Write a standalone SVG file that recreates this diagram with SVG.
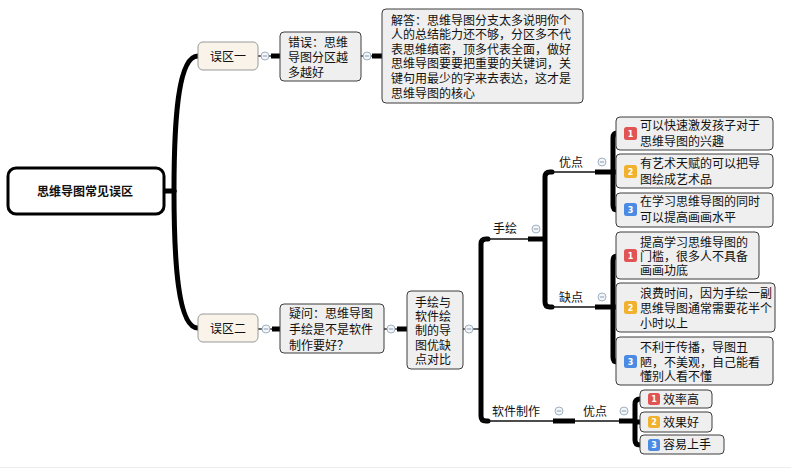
<svg xmlns="http://www.w3.org/2000/svg" width="791" height="472" viewBox="0 0 791 472">
<style>
text{font-family:"Liberation Sans","Noto Sans CJK SC",sans-serif;font-size:12px;fill:#111}
.root{fill:#fff;stroke:#000;stroke-width:3}
.cat{fill:#faf3e9;stroke:#9a9a9a;stroke-width:1}
.box{fill:#efefef;stroke:#3c3c3c;stroke-width:1}
.thin{fill:none;stroke:#111;stroke-width:1.3}
.thick{fill:none;stroke:#000;stroke-width:5;stroke-linecap:round;stroke-linejoin:round}
.bar{fill:none;stroke:#000;stroke-width:5}
.col{fill:#f4f7fa;stroke:#9fb0c0;stroke-width:1}
.colm{stroke:#8a9aab;stroke-width:1}
.b1{fill:#e05454}.b2{fill:#f0b22e}.b3{fill:#4c8be4}
.bn{fill:#fff;font-family:"DejaVu Sans",sans-serif;font-size:8px;font-weight:bold;text-anchor:middle}
</style>
<defs>
<g id="c"><circle r="4" class="col"/><line x1="-2.2" x2="2.2" y1="0" y2="0" class="colm"/></g>
</defs>
<rect width="791" height="472" fill="#fff"/>
<line x1="0" y1="467.5" x2="791" y2="467.5" stroke="#ececec" stroke-width="1"/>

<g id="connectors">
  <path class="thick" d="M164,191 H174"/>
  <path class="thick" d="M174,191 C174,120 178,56 198,56"/>
  <path class="thick" d="M174,191 C174,262 178,328 198,328"/>
  <line class="thin" x1="258" y1="56" x2="280" y2="56"/>
  <line class="bar" x1="271" y1="56" x2="280" y2="56"/>
  <use href="#c" x="265" y="56"/>
  <line class="thin" x1="361" y1="56" x2="382" y2="56"/>
  <line class="bar" x1="372" y1="56" x2="382" y2="56"/>
  <use href="#c" x="367" y="56"/>
  <line class="thin" x1="258" y1="329" x2="280" y2="329"/>
  <line class="bar" x1="272" y1="329" x2="280" y2="329"/>
  <use href="#c" x="266" y="329"/>
  <line class="thin" x1="384" y1="329" x2="407" y2="329"/>
  <line class="bar" x1="397" y1="329" x2="407" y2="329"/>
  <use href="#c" x="391" y="329"/>
  <line class="thin" x1="463" y1="329" x2="481" y2="329"/>
  <use href="#c" x="469" y="329"/>
  <path class="thick" d="M488,239 H486 Q481,239 481,244 V416 Q481,421 486,421 H488"/>
  <line class="thin" x1="481" y1="239" x2="528" y2="239"/>
  <line class="bar" x1="528" y1="239" x2="545" y2="239"/>
  <use href="#c" x="536" y="229"/>
  <path class="thick" d="M552,172 H550 Q545,172 545,177 V302 Q545,307 550,307 H552"/>
  <line class="thin" x1="545" y1="172" x2="595" y2="172"/>
  <line class="bar" x1="595" y1="172" x2="613" y2="172"/>
  <use href="#c" x="602" y="162"/>
  <line class="thin" x1="545" y1="307" x2="595" y2="307"/>
  <line class="bar" x1="595" y1="307" x2="613" y2="307"/>
  <use href="#c" x="602" y="297"/>
  <path class="thick" d="M617,133 Q613,133 613,138 V205 Q613,210 617,210"/>
  <line class="bar" x1="613" y1="172" x2="617" y2="172"/>
  <path class="thick" d="M617,256 Q613,256 613,261 V357 Q613,362 617,362"/>
  <line class="bar" x1="613" y1="307" x2="617" y2="307"/>
  <line class="thin" x1="481" y1="421" x2="619" y2="421"/>
  <line class="bar" x1="553" y1="421" x2="575" y2="421"/>
  <use href="#c" x="559" y="411"/>
  <line class="bar" x1="619" y1="421" x2="635" y2="421"/>
  <use href="#c" x="624" y="411"/>
  <path class="thick" d="M640,399 Q635,399 635,404 V440 Q635,445 640,445"/>
  <line class="bar" x1="635" y1="422" x2="640" y2="422"/>
</g>

<g id="root">
  <rect class="root" x="8" y="168" width="156" height="46" rx="8"/>
  <text x="85" y="195.5" text-anchor="middle" font-weight="bold">思维导图常见误区</text>
</g>

<g id="wuqu1">
  <rect class="cat" x="198" y="42" width="60" height="28" rx="5"/>
  <text x="228" y="60.5" text-anchor="middle">误区一</text>
</g>
<g id="cuowu">
  <rect class="box" x="280" y="32" width="81" height="49" rx="4"/>
  <text x="288" y="46.5">错误：思维</text>
  <text x="288" y="61.5">导图分区越</text>
  <text x="288" y="76.5">多越好</text>
</g>
<g id="jieda">
  <rect class="box" x="382" y="9" width="201" height="94" rx="4"/>
  <text x="391" y="24.5">解答：思维导图分支太多说明你个</text>
  <text x="391" y="39.1">人的总结能力还不够，分区多不代</text>
  <text x="391" y="53.7">表思维缜密，顶多代表全面，做好</text>
  <text x="391" y="68.3">思维导图要要把重要的关键词，关</text>
  <text x="391" y="82.9">键句用最少的字来去表达，这才是</text>
  <text x="391" y="97.5">思维导图的核心</text>
</g>

<g id="wuqu2">
  <rect class="cat" x="198" y="314" width="60" height="28" rx="5"/>
  <text x="228" y="332.5" text-anchor="middle">误区二</text>
</g>
<g id="yiwen">
  <rect class="box" x="280" y="304" width="104" height="49" rx="4"/>
  <text x="289" y="318">疑问：思维导图</text>
  <text x="289" y="334">手绘是不是软件</text>
  <text x="289" y="350">制作要好？</text>
</g>
<g id="duibi">
  <rect class="box" x="407" y="291" width="56" height="78" rx="4"/>
  <text x="433" y="306.5" text-anchor="middle">手绘与</text>
  <text x="433" y="321" text-anchor="middle">软件绘</text>
  <text x="433" y="335.4" text-anchor="middle">制的导</text>
  <text x="433" y="349.8" text-anchor="middle">图优缺</text>
  <text x="433" y="364.2" text-anchor="middle">点对比</text>
</g>

<g id="shouhui"><text x="493" y="232.5">手绘</text></g>
<g id="youdian1"><text x="559" y="166.5">优点</text></g>
<g id="quedian"><text x="559" y="301.5">缺点</text></g>
<g id="ruanjian"><text x="492" y="416">软件制作</text></g>
<g id="youdian2"><text x="583" y="416">优点</text></g>

<g id="y1">
  <rect class="box" x="616" y="117" width="157" height="33" rx="4"/>
  <rect class="b1" x="624" y="127" width="13" height="13" rx="2.5"/><text class="bn" x="630.5" y="136.5">1</text>
  <text x="640" y="129.5">可以快速激发孩子对于</text>
  <text x="640" y="145.5">思维导图的兴趣</text>
</g>
<g id="y2">
  <rect class="box" x="616" y="154" width="157" height="34" rx="4"/>
  <rect class="b2" x="624" y="165" width="13" height="13" rx="2.5"/><text class="bn" x="630.5" y="174.5">2</text>
  <text x="640" y="167.5">有艺术天赋的可以把导</text>
  <text x="640" y="183.5">图绘成艺术品</text>
</g>
<g id="y3">
  <rect class="box" x="616" y="193" width="157" height="34" rx="4"/>
  <rect class="b3" x="624" y="203" width="13" height="13" rx="2.5"/><text class="bn" x="630.5" y="212.5">3</text>
  <text x="640" y="205.5">在学习思维导图的同时</text>
  <text x="640" y="221.5">可以提高画画水平</text>
</g>

<g id="q1">
  <rect class="box" x="616" y="232" width="143" height="47" rx="4"/>
  <rect class="b1" x="624" y="249" width="13" height="13" rx="2.5"/><text class="bn" x="630.5" y="258.5">1</text>
  <text x="640" y="246.5">提高学习思维导图的</text>
  <text x="640" y="260.5">门槛，很多人不具备</text>
  <text x="640" y="275">画画功底</text>
</g>
<g id="q2">
  <rect class="box" x="616" y="283" width="159" height="49" rx="4"/>
  <rect class="b2" x="624" y="301" width="13" height="13" rx="2.5"/><text class="bn" x="630.5" y="310.5">2</text>
  <text x="640" y="297.5">浪费时间，因为手绘一副</text>
  <text x="640" y="312.5">思维导图通常需要花半个</text>
  <text x="640" y="327.5">小时以上</text>
</g>
<g id="q3">
  <rect class="box" x="616" y="337" width="157" height="48" rx="4"/>
  <rect class="b3" x="624" y="355" width="13" height="13" rx="2.5"/><text class="bn" x="630.5" y="364.5">3</text>
  <text x="640" y="351.5">不利于传播，导图丑</text>
  <text x="640" y="366.5">陋，不美观，自己能看</text>
  <text x="640" y="381">懂别人看不懂</text>
</g>

<g id="s1">
  <rect class="box" x="640" y="390" width="72" height="18" rx="4"/>
  <rect class="b1" x="648" y="393" width="12" height="12" rx="2.5"/><text class="bn" x="654" y="402">1</text>
  <text x="663" y="403.5">效率高</text>
</g>
<g id="s2">
  <rect class="box" x="640" y="412" width="72" height="20" rx="4"/>
  <rect class="b2" x="648" y="416" width="12" height="12" rx="2.5"/><text class="bn" x="654" y="425">2</text>
  <text x="663" y="426.5">效果好</text>
</g>
<g id="s3">
  <rect class="box" x="640" y="435" width="84" height="19" rx="4"/>
  <rect class="b3" x="648" y="439" width="12" height="12" rx="2.5"/><text class="bn" x="654" y="448">3</text>
  <text x="663" y="449">容易上手</text>
</g>
</svg>
